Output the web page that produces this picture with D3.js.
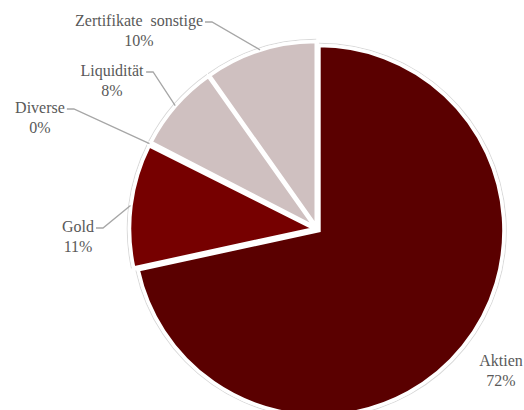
<!DOCTYPE html>
<html>
<head>
<meta charset="utf-8">
<script src="https://cdn.jsdelivr.net/npm/d3@7"></script>
<style>
  html, body { margin: 0; padding: 0; background: #fff; overflow: hidden; }
  #pie { width: 524px; height: 410px; }
  .lbl { font-family: 'Liberation Serif', 'DejaVu Serif', serif; font-size: 16px; fill: #595959; }
</style>
</head>
<body>
<div id="pie"></div>
<script>
// data
const categories = ['Aktien', 'Gold', 'Diverse', 'Liquidität', 'Zertifikate  sonstige'];
const shares = [71.6, 10.8, 0.2, 7.6, 9.8];
const colors = ['#5a0000', '#760000', '#8c2a2a', '#cfc0c0', '#cfc0c0'];

// label layout (text centre x, first baseline y), picked to match the original
const labelPos = [[501, 366], [78, 232], [40, 113], [112, 76], [139, 26]];
const hasLeader = [false, true, true, true, true];

const width = 524, height = 410;
const cx = 317, cy = 229;
const radius = 185;
const explode = 2.5;

const svg = d3.select('#pie').append('svg')
    .attr('width', width)
    .attr('height', height);

const data = categories.map((c, i) => ({ label: c, value: shares[i], color: colors[i] }));
const total = d3.sum(shares);
const fmt = v => Math.round(v / total * 100) + '%';

const pie = d3.pie()
    .sort(null)
    .value(d => d.value);
const arcs = pie(data);

const arc = d3.arc().innerRadius(0).outerRadius(radius);
const rim = d3.arc().innerRadius(radius + 1.8).outerRadius(radius + 2.8);

const g = svg.append('g')
    .attr('transform', 'translate(' + cx + ',' + cy + ')');

function midAngle(d) { return (d.startAngle + d.endAngle) / 2; }
function offset(d) {
    const a = midAngle(d);
    return 'translate(' + (Math.sin(a) * explode) + ',' + (-Math.cos(a) * explode) + ')';
}

const slice = g.selectAll('.slice')
    .data(arcs)
    .enter().append('g')
    .attr('class', 'slice')
    .attr('transform', offset);

// faint shadow line on the outer rim
slice.append('path')
    .attr('d', rim)
    .attr('fill', '#d9d9d9');

slice.append('path')
    .attr('d', arc)
    .attr('fill', d => d.data.color)
    .attr('stroke', '#fff')
    .attr('stroke-width', 3.5)
    .attr('stroke-linejoin', 'miter');

// labels
const labels = svg.append('g');

arcs.forEach((d, i) => {
    const p = labelPos[i];
    const t = labels.append('text')
        .attr('class', 'lbl')
        .attr('x', p[0])
        .attr('y', p[1])
        .attr('text-anchor', 'middle')
        .style('white-space', 'pre');
    t.append('tspan')
        .attr('x', p[0])
        .text(d.data.label);
    t.append('tspan')
        .attr('x', p[0])
        .attr('dy', 20)
        .text(fmt(d.data.value));

    if (hasLeader[i]) {
        const bb = t.select('tspan').node().getBBox();
        const a = midAngle(d);
        const ex = cx + Math.sin(a) * (radius + 3);
        const ey = cy - Math.cos(a) * (radius + 3);
        const sx = bb.x + bb.width + 2;
        const sy = p[1] - 4;
        svg.append('path')
            .attr('d', 'M' + sx + ',' + sy + 'H' + (sx + 7) + 'L' + ex + ',' + ey)
            .attr('fill', 'none')
            .attr('stroke', '#a6a6a6')
            .attr('stroke-width', 1.3);
    }
});
</script>
</body>
</html>
